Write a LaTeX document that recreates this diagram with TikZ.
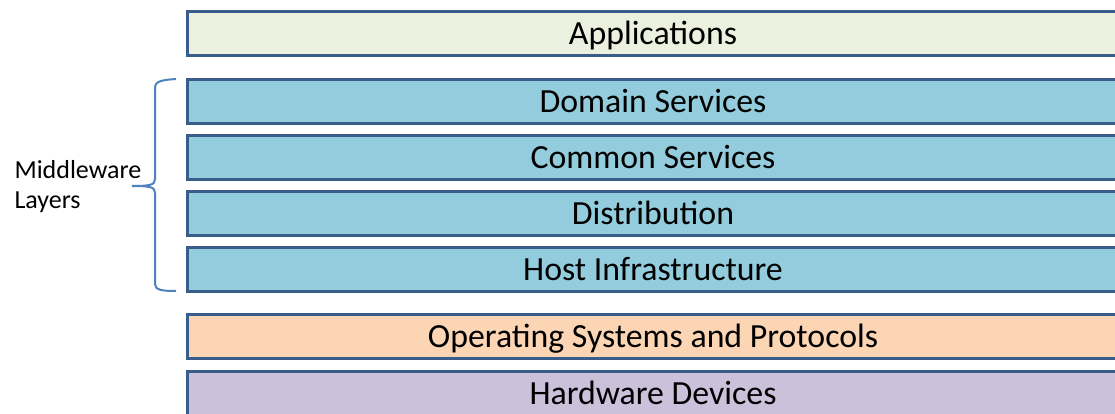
\documentclass[tikz,border=0pt]{standalone}
\usepackage{fontspec}
\setmainfont{Carlito}
\usepackage{tikz}

\definecolor{rimblue}{HTML}{385D8A}
\definecolor{braceblue}{HTML}{4F81BD}
\definecolor{appfill}{HTML}{EBF1DE}
\definecolor{midfill}{HTML}{93CDDD}
\definecolor{osfill}{HTML}{FCD5B5}
\definecolor{hwfill}{HTML}{CCC1DA}

\begin{document}
\begin{tikzpicture}[x=1pt, y=-1pt, node distance=56pt,
		every node/.style={font=\fontsize{33.8}{36}\selectfont},
		layer/.style={draw=rimblue, line width=3pt, minimum width=931pt, minimum height=44pt, inner sep=0pt, text height=28pt, text depth=6pt}]
	\useasboundingbox (0,0) rectangle (1115,414);
	\clip (0,0) rectangle (1115,414);
	\node[layer, fill=appfill] (apps) at (653,34) {Applications};
	\node[layer, fill=midfill, below of=apps, node distance=67.5pt] (domain) {Domain Services};
	\node[layer, fill=midfill, below of=domain] (common) {Common Services};
	\node[layer, fill=midfill, below of=common] (distrib) {Distribution};
	\node[layer, fill=midfill, below of=distrib] (host) {Host Infrastructure};
	\node[layer, fill=osfill, below of=host, node distance=67pt] (os) {Operating Systems and Protocols};
	\node[layer, fill=hwfill, below of=os, node distance=57pt] (hw) {Hardware Devices};
	% brace round the middleware layers
	\draw[braceblue, line width=2pt] (176,79) .. controls (162,80) and (155,81) .. (155,88) -- (155,179)
		.. controls (155,185) and (150,186) .. (132,186) .. controls (150,186) and (155,187) .. (155,193)
		-- (155,284) .. controls (155,290) and (162,291) .. (176,291);
	\node[anchor=west, align=left, font=\fontsize{26}{30}\selectfont] (mwlabel) at (11,187) {Middleware\\Layers};
\end{tikzpicture}
\end{document}
